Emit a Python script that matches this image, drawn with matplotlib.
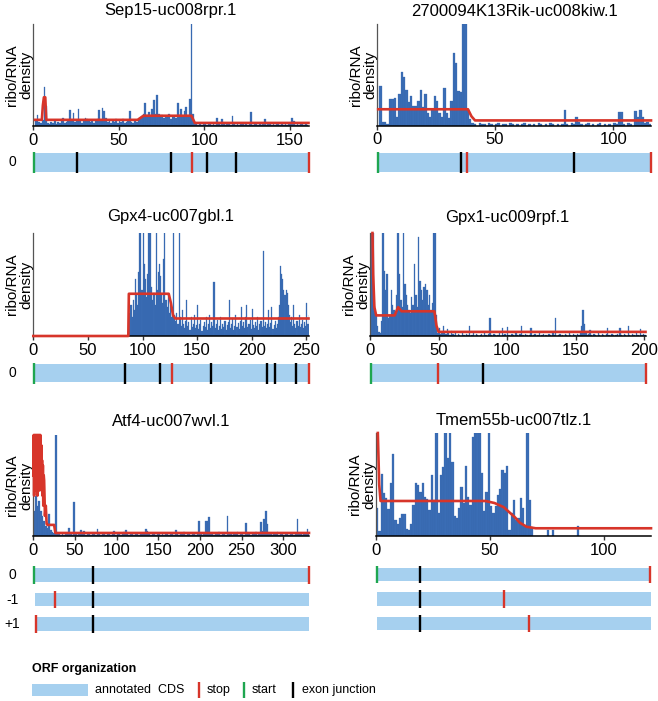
import numpy as np
import matplotlib.pyplot as plt
from matplotlib.patches import Rectangle
from matplotlib.ticker import MultipleLocator

plt.rcParams['font.family'] = ['Liberation Sans', 'DejaVu Sans']

W, H = 658, 701

# ribo/RNA density per codon, in % of the panel height (values >= 100 run off the top)
sep15_vals = [0, 5, 11, 4, 3, 6, 38, 20, 3, 2,
              4, 3, 5, 2, 4, 3, 5, 8, 3, 4,
              5, 16, 6, 13, 4, 6, 17, 5, 3, 6,
              8, 7, 5, 4, 6, 3, 5, 7, 16, 6,
              18, 15, 8, 4, 5, 3, 6, 4, 7, 3,
              5, 4, 7, 3, 4, 5, 15, 4, 3, 5,
              4, 6, 8, 10, 12, 22, 11, 14, 10, 17,
              25, 12, 30, 12, 9, 11, 8, 10, 9, 12,
              7, 9, 10, 8, 22, 11, 17, 9, 15, 19,
              10, 26, 100, 12, 3, 2, 1, 2, 1, 3,
              2, 1, 2, 3, 1, 2, 1, 8, 2, 1,
              7, 2, 1, 3, 2, 1, 10, 3, 1, 2,
              1, 2, 3, 1, 2, 1, 2, 14, 1, 2,
              3, 1, 2, 1, 2, 7, 1, 2, 3, 1,
              2, 1, 2, 3, 1, 2, 1, 2, 1, 3,
              2, 8, 5, 1, 2, 1, 2, 3, 1, 2,
              1]
rik_vals = [0, 39, 3, 3, 1, 26, 26, 27, 8, 31,
            53, 48, 35, 23, 29, 19, 19, 24, 35, 18,
            31, 12, 8, 15, 29, 24, 12, 8, 37, 12,
            7, 24, 71, 62, 34, 33, 100, 100, 16, 6,
            2, 1, 0, 2, 1, 1, 0, 2, 1, 0,
            1, 2, 0, 1, 1, 0, 2, 1, 0, 1,
            0, 1, 2, 0, 1, 0, 1, 0, 2, 1,
            0, 1, 0, 2, 1, 0, 1, 0, 1, 15,
            1, 0, 2, 1, 8, 3, 1, 0, 1, 2,
            0, 1, 0, 1, 2, 0, 1, 0, 1, 0,
            2, 1, 13, 13, 1, 0, 2, 1, 0, 14,
            8, 15, 8, 2, 3, 1]
gpx4_first = 87
gpx4_vals = [5, 22, 30, 18, 35, 25, 55, 40, 30, 62,
             100, 100, 45, 100, 70, 55, 38, 60, 100, 100,
             100, 48, 35, 42, 30, 100, 45, 62, 70, 58,
             40, 32, 75, 100, 35, 28, 40, 22, 30, 18,
             25, 100, 20, 15, 22, 12, 100, 18, 10, 25,
             12, 8, 15, 35, 10, 14, 6, 18, 9, 12,
             20, 8, 11, 30, 7, 12, 16, 5, 10, 14,
             9, 18, 6, 12, 20, 8, 14, 10, 52, 8,
             12, 16, 6, 10, 18, 7, 12, 9, 15, 6,
             11, 14, 35, 8, 12, 17, 6, 10, 20, 9,
             13, 7, 15, 28, 10, 14, 8, 18, 30, 9,
             12, 16, 7, 26, 11, 8, 14, 10, 18, 6,
             12, 15, 9, 83, 10, 14, 8, 12, 25, 9,
             13, 28, 7, 11, 15, 8, 12, 18, 30, 68,
             60, 55, 45, 40, 45, 42, 30, 20, 14, 18,
             10, 30, 12, 8, 15, 10, 20, 9, 12, 16,
             8, 14, 10, 32, 12, 20]
gpx1_vals = [30, 100, 100, 29, 20, 10, 4, 3, 15, 100,
             63, 45, 60, 17, 20, 45, 30, 25, 22, 40,
             100, 60, 35, 28, 100, 50, 40, 30, 25, 22,
             38, 30, 70, 40, 28, 96, 53, 45, 35, 48,
             50, 45, 30, 40, 25, 32, 100, 100, 20, 3,
             8, 2, 4, 10, 3, 2, 7, 3, 1, 5,
             2, 1, 3, 0, 2, 1, 0, 3, 1, 0,
             2, 1, 10, 0, 1, 3, 0, 2, 1, 0,
             1, 2, 0, 3, 1, 0, 2, 17, 1, 0,
             2, 1, 0, 1, 3, 0, 8, 1, 2, 0,
             9, 1, 0, 2, 1, 0, 3, 1, 0, 2,
             10, 1, 0, 2, 1, 0, 1, 8, 0, 1,
             2, 0, 1, 3, 0, 1, 2, 0, 1, 0,
             2, 1, 0, 3, 1, 17, 0, 1, 2, 0,
             1, 0, 2, 1, 0, 3, 1, 0, 2, 1,
             0, 2, 1, 3, 10, 25, 12, 4, 1, 2,
             6, 1, 0, 2, 1, 0, 3, 1, 0, 2,
             1, 0, 2, 8, 1, 0, 2, 1, 0, 1,
             2, 0, 8, 1, 0, 2, 1, 0, 10, 1,
             0, 2, 1, 0, 3, 1, 0, 7, 1, 2,
             1]
# Atf4 read in bins of 2 codons
atf4_vals = [25, 40, 30, 35, 25, 20, 15, 10, 8, 22,
             6, 4, 3, 100, 3, 2, 1, 2, 1, 3,
             2, 8, 2, 1, 34, 2, 1, 3, 6, 2,
             5, 1, 2, 3, 1, 2, 3, 1, 7, 2,
             1, 3, 2, 1, 2, 3, 1, 2, 5, 1,
             2, 3, 1, 2, 4, 6, 2, 1, 3, 2,
             1, 2, 3, 1, 2, 3, 2, 7, 5, 2,
             1, 3, 2, 1, 2, 3, 1, 2, 1, 3,
             2, 1, 2, 3, 1, 6, 2, 1, 3, 2,
             4, 1, 2, 3, 1, 2, 3, 1, 2, 15,
             3, 1, 2, 15, 15, 19, 3, 2, 1, 3,
             2, 4, 1, 2, 3, 1, 20, 3, 2, 1,
             3, 2, 4, 1, 2, 3, 1, 13, 3, 2,
             1, 3, 2, 4, 1, 3, 14, 5, 17, 25,
             12, 3, 2, 1, 3, 2, 4, 1, 2, 3,
             1, 2, 3, 1, 2, 3, 1, 2, 17, 3,
             2, 1, 3, 2, 7, 2]
tmem_vals = [27, 5, 60, 42, 37, 26, 51, 80, 16, 12,
             17, 21, 21, 7, 6, 12, 30, 51, 50, 43,
             51, 38, 36, 25, 59, 35, 100, 22, 59, 67,
             100, 76, 100, 72, 19, 17, 27, 48, 32, 68,
             38, 30, 96, 100, 100, 100, 61, 24, 43, 100,
             29, 22, 29, 40, 46, 64, 61, 68, 6, 22,
             35, 16, 17, 37, 27, 11, 100, 35, 9, 0,
             0, 0, 0, 0, 0, 6, 0, 6, 0, 0,
             0, 0, 0, 0, 0, 0, 0, 0, 10, 0]

# smoothed density (red line): codon, % height
sep15_red_x = [1, 5, 5.6, 6.2, 7.0, 7.6, 61, 64.5, 92.5, 94.5, 161]
sep15_red_y = [6, 6, 20, 28, 28, 6, 6, 10, 10, 3, 3]
rik_red_x = [0.5, 38.5, 40, 41.5, 116]
rik_red_y = [16, 16, 9, 5, 5]
gpx4_red_x = [0, 87, 87.5, 124, 126, 128, 130, 252]
gpx4_red_y = [0, 0, 41, 41, 32, 20, 17, 17]
gpx1_red_x = [1.8, 2.3, 3.2, 4.5, 18, 20.5, 23, 47, 48.5, 50, 201]
gpx1_red_y = [100, 60, 28, 20, 20, 28, 24, 24, 10, 4, 4]
atf4_red_x = [0, 0.5, 1, 1.5, 2, 2.5, 3, 3.5, 4, 4.5, 5, 5.5, 6, 6.5, 7, 7.5, 8, 8.5,
              9, 9.5, 10, 10.5, 11, 11.5, 12, 12.5, 13, 14, 15, 16, 17, 25, 26.5, 331]
atf4_red_y = [60, 100, 40, 100, 50, 100, 45, 100, 70, 100, 40, 100, 55, 100, 45, 100, 60, 100,
              50, 90, 45, 75, 40, 70, 30, 60, 55, 20, 30, 12, 11, 11, 3, 3]
tmem_red_x = [0.8, 1.4, 2, 48, 52, 56, 59, 61, 63, 66, 70, 120.6]
tmem_red_y = [100, 50, 34, 34, 32, 28, 22, 18, 13, 9, 7.5, 7.5]

# ORF organization: (frame label, cds begin, cds end, starts, stops, exon junctions)
sep15_orf = [('0', 0, 161, [0.5], [93, 161], [25.8, 80.6, 101.7, 118.5])]
rik_orf = [('', 0, 116, [0.5], [38, 116], [35.7, 83.6])]
gpx4_orf = [('0', 0, 252, [1], [127, 252], [84, 116, 163, 214, 221.5, 241])]
gpx1_orf = [('', 0, 201, [1], [49.5, 201], [82.5])]
atf4_orf = [('0', 0, 331, [1], [331], [72]),
            ('-1', 2, 331, [], [26.5], [72]),
            ('+1', 2, 331, [], [3], [72])]
tmem_orf = [('', 0, 120.6, [0.3], [120.3], [19.5]),
            ('', 0.4, 120.6, [], [56], [19.5]),
            ('', 0.4, 120.6, [], [67.3], [19.5])]

BAR = '#3a6db5'
BAR_EDGE = '#3465ab'
RED = '#d7352a'
GREEN = '#1ea650'
CDS = '#a6d0ef'

fig = plt.figure(figsize=(W / 100, H / 100), dpi=100)


def px_axes(left, top, right, bottom):
    return fig.add_axes([left / W, 1 - bottom / H, (right - left) / W, (bottom - top) / H])


panels = [
    dict(title='Sep15-uc008rpr.1', vals=sep15_vals, x0=0, step=1, rx=sep15_red_x, ry=sep15_red_y,
         xmax=161, box=(33.3, 23.5, 308.5, 126), pad=9, orf=sep15_orf, track=(162.5, 25, 0.76, 0.86)),
    dict(title='2700094K13Rik-uc008kiw.1', vals=rik_vals, x0=0, step=1, rx=rik_red_x, ry=rik_red_y,
         xmax=116, box=(377, 24, 651, 125.5), pad=8, orf=rik_orf, track=(162.5, 25, 0.76, 0.86)),
    dict(title='Gpx4-uc007gbl.1', vals=gpx4_vals, x0=gpx4_first, step=1, rx=gpx4_red_x, ry=gpx4_red_y,
         xmax=252, box=(33.3, 233, 308.5, 336), pad=12, orf=gpx4_orf, track=(373, 25, 0.72, 0.84)),
    dict(title='Gpx1-uc009rpf.1', vals=gpx1_vals, x0=0, step=1, rx=gpx1_red_x, ry=gpx1_red_y,
         xmax=201, box=(370, 233, 645.5, 336), pad=11, orf=gpx1_orf, track=(373, 25, 0.72, 0.84)),
    dict(title='Atf4-uc007wvl.1', vals=atf4_vals, x0=0, step=2, rx=atf4_red_x, ry=atf4_red_y,
         xmax=331, box=(33.3, 435, 309, 536), pad=9, orf=atf4_orf, track=(575, 24.5, 0.57, 0.70)),
    dict(title='Tmem55b-uc007tlz.1', vals=tmem_vals, x0=0, step=1, rx=tmem_red_x, ry=tmem_red_y,
         xmax=120.6, box=(376, 433, 651, 536), pad=8, orf=tmem_orf, track=(574.5, 24.5, 0.57, 0.70)),
]

for p in panels:
    l, t, r, b = p['box']
    ax = px_axes(l, t, r, b)
    x = p['x0'] + p['step'] * np.arange(len(p['vals']))
    ax.bar(x, p['vals'], width=p['step'], align='edge', color=BAR,
           edgecolor=BAR_EDGE, linewidth=0.2, zorder=2)
    ax.plot(p['rx'], p['ry'], color=RED, lw=1.9, zorder=4, clip_on=False)
    ax.set_xlim(0, p['xmax'])
    ax.set_ylim(0, 100)
    ax.set_yticks([])
    ax.xaxis.set_major_locator(MultipleLocator(50))
    ax.tick_params(axis='x', labelsize=12, length=3, width=1, pad=2, color='#333333')
    for s in ('top', 'right'):
        ax.spines[s].set_visible(False)
    ax.spines['left'].set_color('#555555')
    ax.spines['left'].set_linewidth(0.9)
    ax.spines['bottom'].set_linewidth(1.1)
    ax.set_title(p['title'], fontsize=12, pad=p['pad'] * 0.72)
    ax.set_ylabel('ribo/RNA\ndensity', fontsize=11, labelpad=0, linespacing=1.0)

    # ORF tracks under the panel
    yc, unit, rh, mh = p['track']
    nrow = len(p['orf'])
    tax = px_axes(l, yc - unit / 2, r, yc + unit * (nrow - 0.5))
    tax.set_xlim(0, p['xmax'])
    tax.set_ylim(-nrow + 0.5, 0.5)
    tax.axis('off')
    for i, (lab, beg, end, starts, stops, juncs) in enumerate(p['orf']):
        y = -i
        tax.barh(y, end - beg, left=beg, height=rh, color=CDS, linewidth=0)
        tax.vlines(juncs, y - mh / 2, y + mh / 2, color='black', lw=1.7, clip_on=False)
        tax.vlines(stops, y - mh / 2, y + mh / 2, color=RED, lw=1.7, clip_on=False)
        tax.vlines(starts, y - mh / 2, y + mh / 2, color=GREEN, lw=1.7, clip_on=False)
        if lab:
            tax.text(-21 / (r - l), y, lab, transform=tax.get_yaxis_transform(),
                     ha='center', va='center', fontsize=10)

# legend block at the bottom
lax = px_axes(0, 645, W, H)
lax.set_xlim(0, W)
lax.set_ylim(H, 645)
lax.axis('off')
lax.text(32, 669, 'ORF organization', fontsize=9, fontweight='bold', va='center')
lax.add_patch(Rectangle((32, 684), 56, 12, color=CDS, lw=0))
lax.text(95, 690, 'annotated  CDS', fontsize=9, va='center')
lax.vlines([199], 682, 698, color=RED, lw=1.7)
lax.text(207, 690, 'stop', fontsize=9, va='center')
lax.vlines([244], 682, 698, color=GREEN, lw=1.7)
lax.text(252, 690, 'start', fontsize=9, va='center')
lax.vlines([293], 682, 698, color='black', lw=1.7)
lax.text(302, 690, 'exon junction', fontsize=9, va='center')

fig.savefig('out.png', dpi=100)
